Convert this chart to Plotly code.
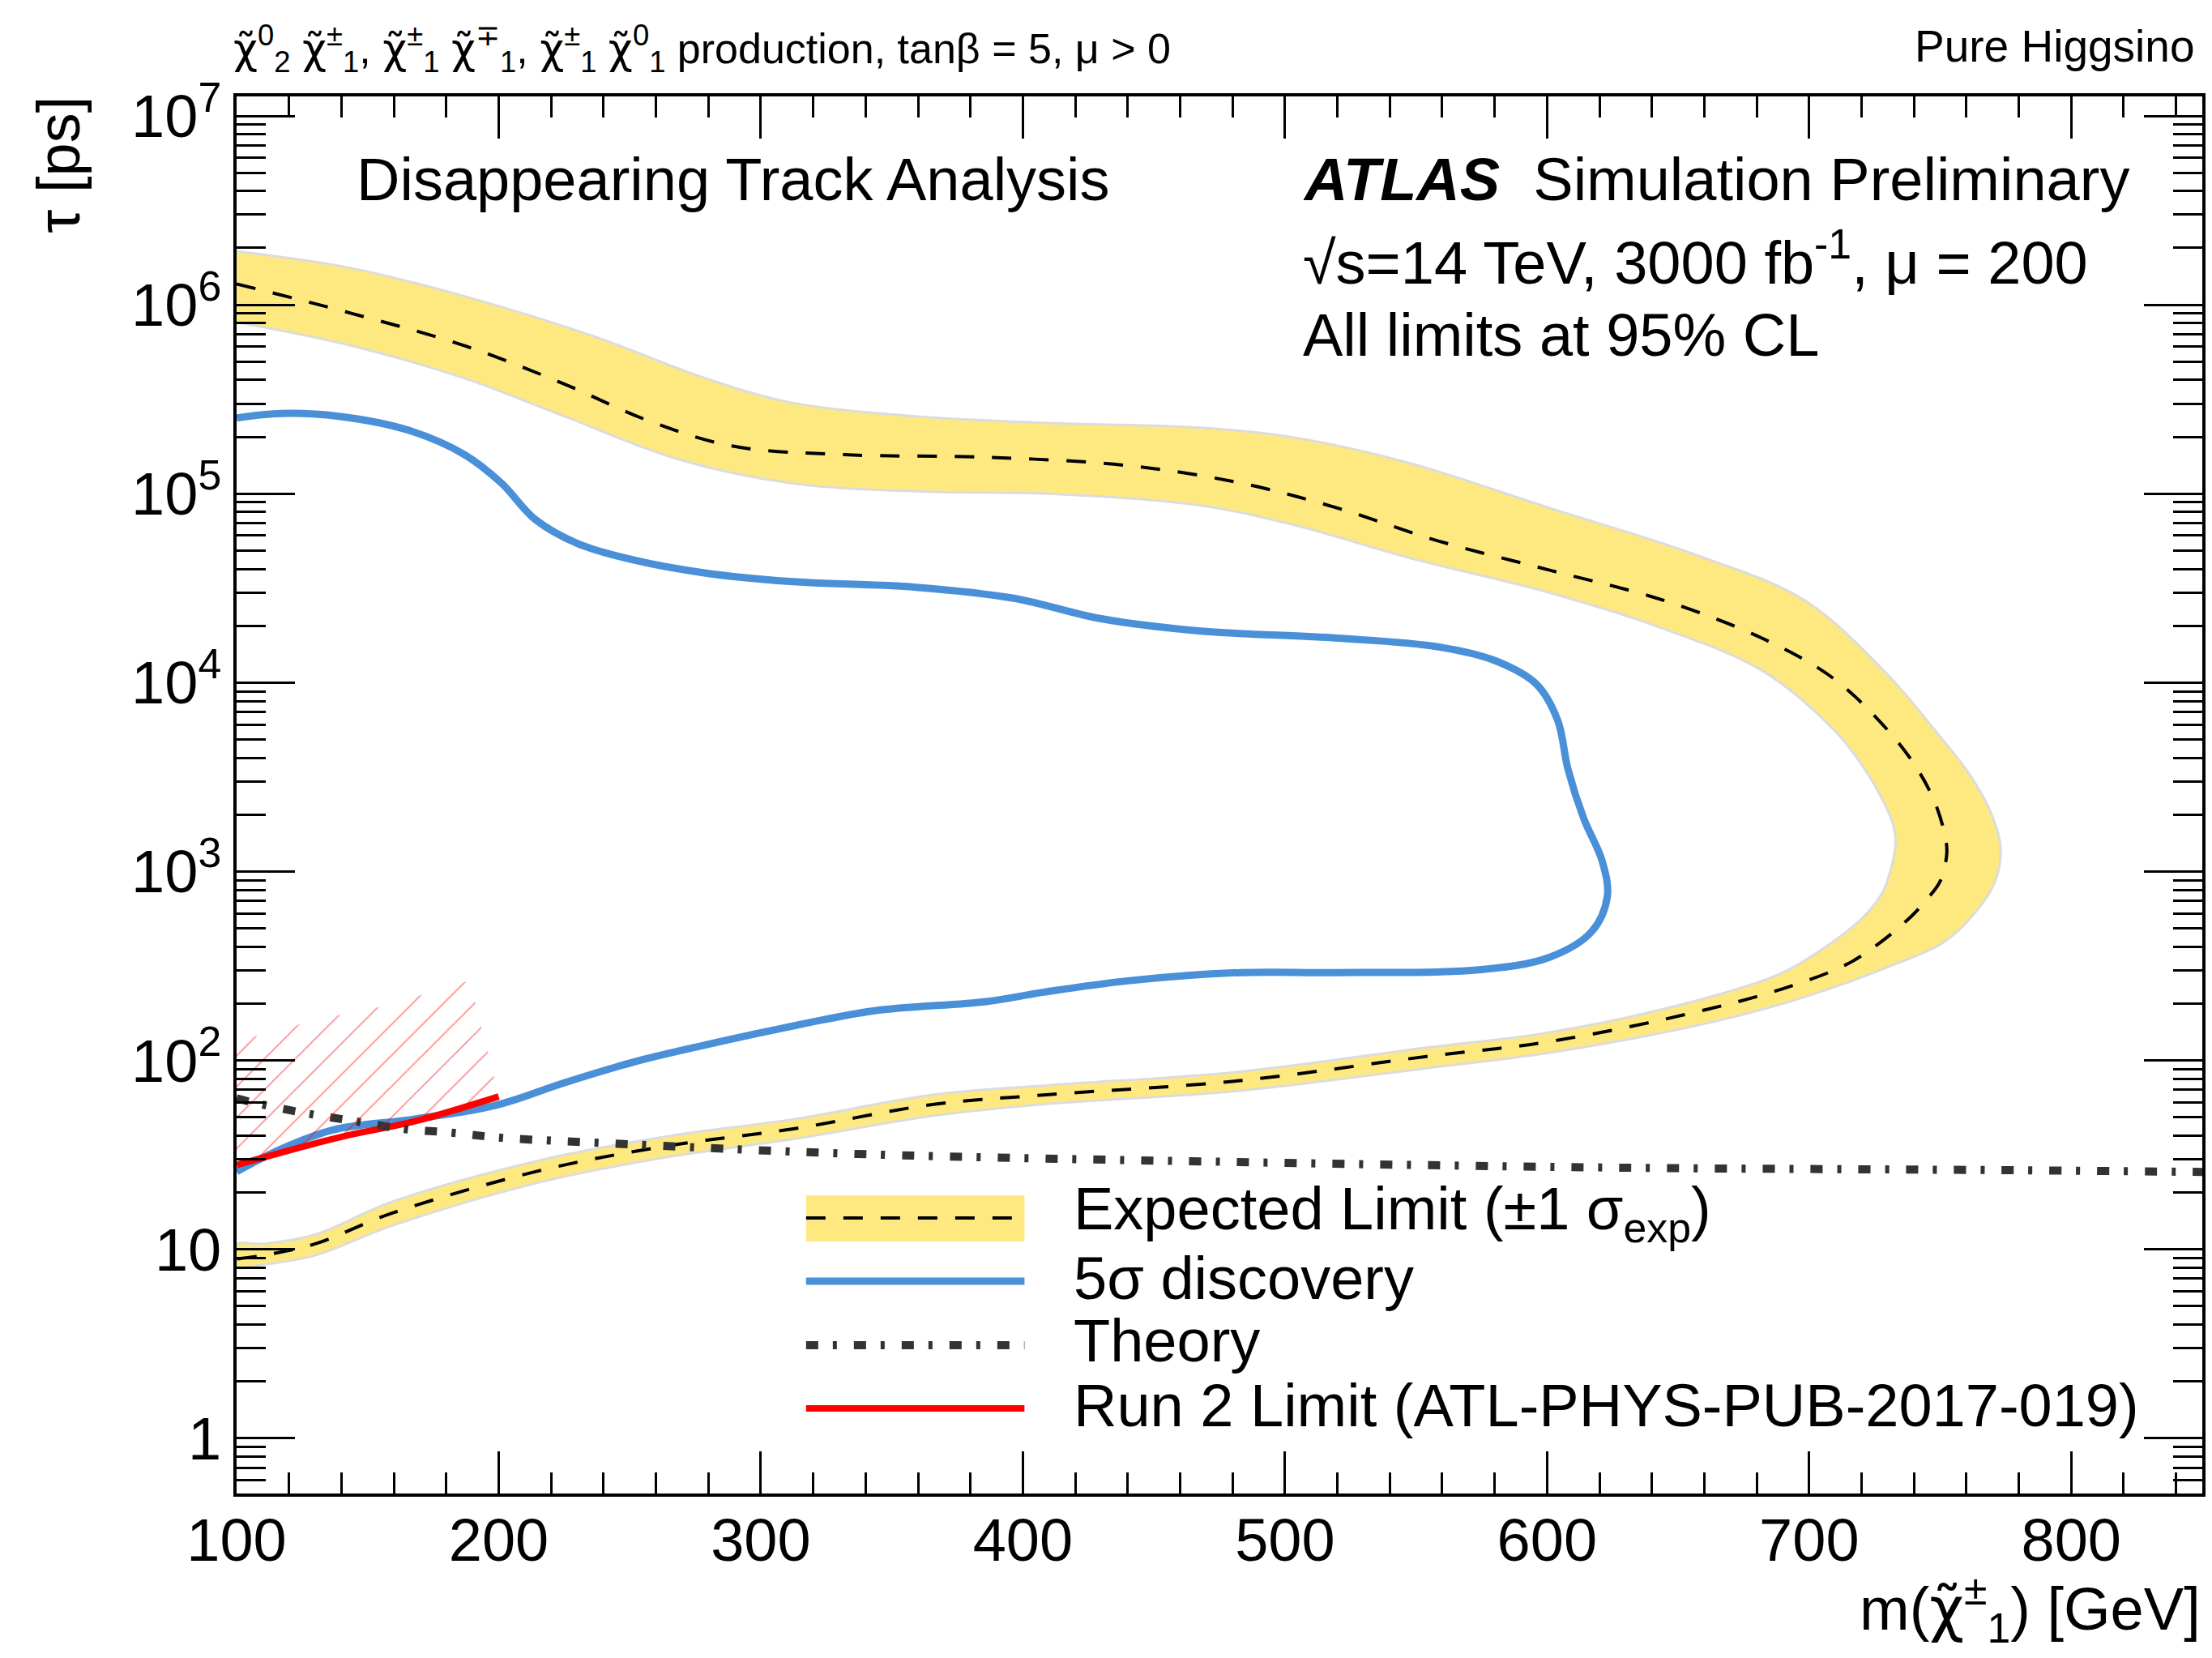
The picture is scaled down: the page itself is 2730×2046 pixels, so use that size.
import plotly.graph_objects as go

# ---------------- data ----------------
# Expected limit (central, dashed)
exp_m = [100, 144, 187, 225, 257, 289, 332, 386, 440, 483, 520, 558, 601, 644, 682, 709, 730, 741, 748, 752, 752.5,
         750, 744, 739, 727, 714, 690, 655, 601, 554, 482, 410, 366, 313, 265, 217, 159, 130, 110, 100]
exp_tau = [1.29e6, 9.0e5, 6.07e5, 3.81e5, 2.44e5, 1.79e5, 1.61e5, 1.56e5, 1.41e5, 1.14e5, 8.4e4, 5.65e4, 3.94e4,
           2.74e4, 1.72e4, 1.06e4, 5.6e3, 3.54e3, 2.32e3, 1.51e3, 1.24e3,
           890, 690, 580, 420, 321, 240, 178, 126, 105, 78, 66, 58.6, 43.6, 35.4, 26.4, 15.5, 10.7, 9.3, 8.9]

# +1 sigma (outer) contour
band_outer_m = [100, 144, 187, 236, 279, 311, 359, 413, 467, 504, 547, 601, 655, 698, 730, 748, 761, 769, 773,
                771, 763, 751, 730, 714, 690, 655, 601, 554, 482, 410, 366, 313, 265, 217, 159, 130, 110, 100]
band_outer_tau = [1.92e6, 1.56e6, 1.11e6, 6.84e5, 4.08e5, 3.05e5, 2.57e5, 2.36e5, 2.24e5, 1.98e5, 1.46e5, 8.4e4,
                  4.84e4, 2.74e4, 1.1e4, 5.6e3, 3.3e3, 2.1e3, 1.37e3,
                  890, 598, 419, 312, 257, 200, 151, 110, 91, 69, 59, 51, 38.5, 30.9, 22.9, 13.3, 9.3, 8.3, 8.1]

# -1 sigma (inner) contour, from lower-left round to upper-left
band_inner_m = [100, 110, 130, 159, 217, 265, 313, 366, 410, 482, 554, 601, 655, 689, 704, 720, 728, 731.5, 733,
                732, 729, 720, 709.6, 682, 644, 601, 547, 504, 467, 413, 359, 311, 268, 225, 187, 144, 100]
band_inner_tau = [10.6, 10.7, 12.0, 17.8, 29.9, 39.8, 49, 66, 74, 87, 117, 141, 204, 288, 380, 562, 776, 1070, 1410,
                  1780, 2250, 3690, 5600, 1.16e4, 1.94e4, 2.99e4, 4.59e4, 6.8e4, 8.7e4, 9.96e4, 1.03e5, 1.14e5,
                  1.53e5, 2.57e5, 4.08e5, 6.07e5, 8.1e5]

# 5 sigma discovery contour
disc_m = [100, 117, 139, 166, 187, 201, 214, 230, 252, 279, 311, 359, 397, 429, 467, 520, 558, 580, 596, 604, 608,
          614, 621, 623, 617, 601, 574, 520, 483, 440, 408, 386, 343, 306, 279, 252, 225, 199, 168, 137, 117, 100]
disc_tau = [2.52e5, 2.66e5, 2.57e5, 2.16e5, 1.61e5, 1.14e5, 7.3e4, 5.46e4, 4.44e4, 3.80e4, 3.43e4, 3.20e4, 2.79e4,
            2.19e4, 1.88e4, 1.72e4, 1.55e4, 1.31e4, 9.8e3, 6.35e3, 3.48e3, 1.91e3, 1.14e3, 740, 481, 352, 302, 292,
            292, 264, 230, 205, 183, 146, 121, 98.6, 76.2, 58, 49, 43, 34, 25.8]

# Theory
theo_m = [100, 106, 125, 144, 164, 182, 201, 241, 337, 482, 627, 771, 850]
theo_tau = [63, 60, 53, 48, 43.4, 41.5, 39, 36.5, 32, 29, 27.1, 26.3, 25.7]

# Run 2 limit
run2_m = [100, 127, 143, 168, 200]
run2_tau = [28, 35.5, 40.3, 47.7, 64.5]

# Run 2 hatched (excluded side) region
hatch_m = [100, 127, 143, 168, 200, 189, 157, 131, 116, 100]
hatch_tau = [28, 35.5, 40.3, 47.7, 64.5, 265, 195, 165, 145, 126]

# axis ticks
x_ticks = [100, 200, 300, 400, 500, 600, 700, 800]
y_ticks = [1, 10, 1e2, 1e3, 1e4, 1e5, 1e6, 1e7]
y_ticktext = ["1", "10", "10<sup>2</sup>", "10<sup>3</sup>", "10<sup>4</sup>", "10<sup>5</sup>",
              "10<sup>6</sup>", "10<sup>7</sup>"]
y_minor = [k * 10.0 ** d for d in range(-1, 8) for k in range(2, 10)]

# ---------------- style ----------------
FONT = "Liberation Sans, Arial, Helvetica, sans-serif"
YELLOW = "#FEE981"
BLUE = "#4A90D9"
RED = "#FF0000"
THEORY = "#333333"
SM = 1.0

W, H = 2730, 2046
L, R, T, B = 292, 8, 119, 203
PW, PH = W - L - R, H - T - B


def px(x):
    return (x - L) / PW


def py(y):
    return (H - B - y) / PH


fig = go.Figure()

# band
band_m = band_outer_m + band_inner_m
band_tau = band_outer_tau + band_inner_tau
fig.add_trace(go.Scatter(x=band_m, y=band_tau, mode="lines", fill="toself", fillcolor=YELLOW,
                         line=dict(color="#DCDCDC", width=3, shape="spline", smoothing=SM),
                         hoverinfo="skip", showlegend=False))
# expected dashed
fig.add_trace(go.Scatter(x=exp_m, y=exp_tau, mode="lines",
                         line=dict(color="black", width=4, dash="24px,22px", shape="spline", smoothing=SM),
                         showlegend=False))
# discovery
fig.add_trace(go.Scatter(x=disc_m, y=disc_tau, mode="lines",
                         line=dict(color=BLUE, width=9, shape="spline", smoothing=SM),
                         showlegend=False))
# run2 line
fig.add_trace(go.Scatter(x=run2_m, y=run2_tau, mode="lines",
                         line=dict(color=RED, width=8, shape="spline", smoothing=SM),
                         showlegend=False))
# theory
fig.add_trace(go.Scatter(x=theo_m, y=theo_tau, mode="lines",
                         line=dict(color=THEORY, width=10, dash="15px,18px,5px,21px", shape="spline",
                                   smoothing=SM),
                         showlegend=False))
# hatch
fig.add_trace(go.Scatter(x=hatch_m, y=hatch_tau, mode="lines", fill="toself", fillcolor="rgba(0,0,0,0)",
                         fillpattern=dict(shape="/", fgcolor="rgba(255,0,0,0.85)", bgcolor="rgba(0,0,0,0)",
                                          size=27, solidity=0.07),
                         line=dict(width=0, color="rgba(0,0,0,0)"), hoverinfo="skip", showlegend=False))

# ---------------- legend (drawn) ----------------
shapes = []
lx0, lx1 = px(996), px(1266)
shapes.append(dict(type="rect", xref="paper", yref="paper", x0=lx0, x1=lx1, y0=py(1532), y1=py(1475),
                   fillcolor=YELLOW, line=dict(width=0), layer="above"))
shapes.append(dict(type="line", xref="paper", yref="paper", x0=lx0, x1=lx1, y0=py(1503), y1=py(1503),
                   line=dict(color="black", width=4, dash="24px,22px"), layer="above"))
shapes.append(dict(type="line", xref="paper", yref="paper", x0=lx0, x1=lx1, y0=py(1581), y1=py(1581),
                   line=dict(color=BLUE, width=9), layer="above"))
shapes.append(dict(type="line", xref="paper", yref="paper", x0=lx0, x1=lx1, y0=py(1660), y1=py(1660),
                   line=dict(color=THEORY, width=10, dash="15px,18px,5px,21px"), layer="above"))
shapes.append(dict(type="line", xref="paper", yref="paper", x0=lx0, x1=lx1, y0=py(1738), y1=py(1738),
                   line=dict(color=RED, width=8), layer="above"))

ann = []


def text(s, x, y, size, xanchor="left", yanchor="middle", angle=0):
    ann.append(dict(text=s, x=px(x), y=py(y), xref="paper", yref="paper", xanchor=xanchor, yanchor=yanchor,
                    showarrow=False, textangle=angle, font=dict(family=FONT, size=size, color="black")))


LEG = 74
text("Expected Limit (±1 σ<sub>exp</sub>)", 1325, 1497, LEG)
text("5σ discovery", 1325, 1577, LEG)
text("Theory", 1325, 1654, LEG)
text("Run 2 Limit (ATL-PHYS-PUB-2017-019)", 1325, 1734, LEG)

text("Disappearing Track Analysis", 438, 221, 74)
text("<b><i>ATLAS</i></b>  Simulation Preliminary", 1608, 221, 74)
text("√s=14 TeV, 3000 fb<sup>-1</sup>, μ = 200", 1608, 319, 74)
text("All limits at 95% CL", 1608, 413, 74)

CHI = "<span style=\"font-family:'DejaVu Sans'\">χ̃</span>"
sups = ["0", "±", "±", "∓", "±", "0"]
subs = ["2", "1", "1", "1", "1", "1"]
seps = [" ", ", ", " ", ", ", " ", " "]
top = "".join(f"{CHI}<sup>{u}</sup><sub>{d}</sub>{s}" for u, d, s in zip(sups, subs, seps)) + \
    "production, tanβ = 5, μ > 0"
text(top, 286, 60, 52)
text("Pure Higgsino", 2714, 57, 55, xanchor="right")

text("τ [ps]", 72, 117, 74, xanchor="center", yanchor="top", angle=-90)
text(f"m({CHI}<sup>±</sup><sub>1</sub>) [GeV]", 2722, 1985, 74, xanchor="right")

fig.update_layout(
    width=W, height=H,
    margin=dict(l=L, r=R, t=T, b=B, pad=0),
    paper_bgcolor="white", plot_bgcolor="white",
    font=dict(family=FONT, size=74, color="black"),
    shapes=shapes, annotations=ann, showlegend=False,
    xaxis=dict(range=[100, 850], tickmode="array", tickvals=x_ticks, ticks="inside", ticklen=52, tickwidth=3,
               tickcolor="black", showline=True, linewidth=4, linecolor="black", mirror="allticks",
               showgrid=False, zeroline=False, tickfont=dict(size=74, family=FONT), ticklabelstandoff=-10,
               minor=dict(dtick=20, tick0=100, ticks="inside", ticklen=26, tickwidth=3, tickcolor="black",
                          showgrid=False)),
    yaxis=dict(type="log", range=[-0.292, 7.103], tickmode="array", tickvals=y_ticks, ticktext=y_ticktext,
               ticks="inside", ticklen=72, tickwidth=3, tickcolor="black", showline=True, linewidth=4,
               linecolor="black", mirror="allticks", showgrid=False, zeroline=False,
               tickfont=dict(size=74, family=FONT),
               minor=dict(tickmode="array", tickvals=y_minor, ticks="inside", ticklen=36, tickwidth=3,
                          tickcolor="black", showgrid=False)),
)

fig.write_html("out.html")
